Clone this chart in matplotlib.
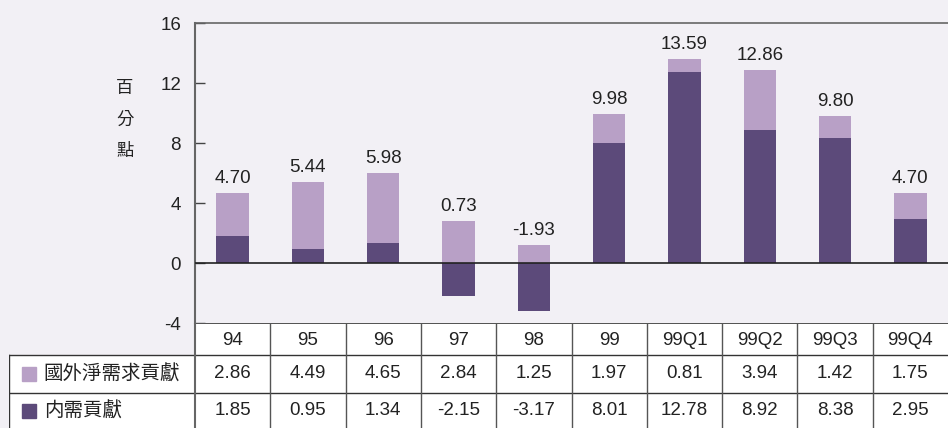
import matplotlib
matplotlib.use("Agg")
import matplotlib.pyplot as plt
import numpy as np

plt.rcParams['font.family'] = ['Liberation Sans', 'Noto Sans CJK TC', 'DejaVu Sans']
plt.rcParams['axes.unicode_minus'] = False

# data
categories = ["94", "95", "96", "97", "98", "99", "99Q1", "99Q2", "99Q3", "99Q4"]
foreign = [2.86, 4.49, 4.65, 2.84, 1.25, 1.97, 0.81, 3.94, 1.42, 1.75]
domestic = [1.85, 0.95, 1.34, -2.15, -3.17, 8.01, 12.78, 8.92, 8.38, 2.95]
totals = [4.70, 5.44, 5.98, 0.73, -1.93, 9.98, 13.59, 12.86, 9.80, 4.70]
series_names = ["國外淨需求貢獻", "内需貢獻"]

bg = "#f2f0f5"
c_light = "#b8a0c6"
c_dark = "#5c4a7a"
W, H = 948, 428
fs = 13.5

fig = plt.figure(figsize=(W / 100, H / 100), dpi=100, facecolor=bg)

# main chart
ax_l, ax_r, ax_t, ax_b = 195, 948, 23.3, 323.3
ax = fig.add_axes([ax_l / W, 1 - ax_b / H, (ax_r - ax_l) / W, (ax_b - ax_t) / H])
ax.set_facecolor(bg)

x = np.arange(len(categories))
foreign = np.array(foreign)
domestic = np.array(domestic)
# foreign part sits on top of domestic when domestic is positive, else starts at 0
base = np.where(domestic > 0, domestic, 0)
ax.bar(x, domestic, width=0.43, color=c_dark, zorder=2)
ax.bar(x, foreign, bottom=base, width=0.43, color=c_light, zorder=2)

tops = base + foreign
for xi, t, lab in zip(x, tops, totals):
    ax.text(xi, t + 0.4, "%.2f" % lab, ha="center", va="bottom", fontsize=fs, color="#222222")

ax.axhline(0, color="#222222", lw=1.2, zorder=3)
ax.set_xlim(-0.5, len(categories) - 0.5)
ax.set_ylim(-4, 16)
ax.set_yticks([-4, 0, 4, 8, 12, 16])
ax.set_xticks([])
ax.tick_params(axis="y", direction="in", length=7, width=1, color="#444444",
               labelsize=fs, labelcolor="#222222", pad=10)
for s in ["right", "bottom"]:
    ax.spines[s].set_visible(False)
ax.spines["left"].set_color("#666666")
ax.spines["top"].set_color("#666666")
ax.spines["left"].set_linewidth(1.5)
ax.spines["top"].set_linewidth(1.2)

fig.text(125 / W, 1 - 120 / H, "百\n分\n點", ha="center", va="center",
         fontsize=12.5, linespacing=2.2, color="#222222")

# data table below
tl, tr, tt, tb = 9, 948, 323.3, 428
tax = fig.add_axes([tl / W, 0, (tr - tl) / W, (tb - tt) / H])
tax.set_facecolor("none")
col_w = (ax_r - ax_l) / len(categories)
lab_w = (ax_l - tl) / col_w
tax.set_xlim(-0.5 - lab_w, len(categories) - 0.5)
tax.set_ylim(tb - tt, 0)
tax.axis("off")

row_edges = [0, 31.5, 69.5, 107]
left_edge = -0.5 - lab_w
x0 = -0.5
x1 = len(categories) - 0.5

# white cell backgrounds
tax.fill_between([x0, x1], row_edges[0], row_edges[1], color="white", zorder=0)
tax.fill_between([left_edge, x1], row_edges[1], row_edges[3], color="white", zorder=0)

lc = "#333333"
tax.plot([x0, x1], [row_edges[0]] * 2, color=lc, lw=1.2)
for ry in row_edges[1:3]:
    tax.plot([left_edge, x1], [ry, ry], color=lc, lw=1)
tax.plot([left_edge, left_edge], [row_edges[1], row_edges[3]], color=lc, lw=1)
tax.plot([x0, x0], [row_edges[0], row_edges[3]], color="#666666", lw=1.5)
for i in range(1, len(categories)):
    tax.plot([i - 0.5, i - 0.5], [row_edges[0], row_edges[3]], color="#555555", lw=1)

for i, c in enumerate(categories):
    tax.text(i, (row_edges[0] + row_edges[1]) / 2 + 1, c, ha="center", va="center", fontsize=fs, color="#222222")
for r, (vals, col, name) in enumerate(zip([foreign, domestic], [c_light, c_dark], series_names)):
    yc = (row_edges[r + 1] + row_edges[r + 2]) / 2
    if r == 1:
        yc = row_edges[2] + 18
    for i, v in enumerate(vals):
        tax.text(i, yc, "%.2f" % v, ha="center", va="center", fontsize=fs, color="#222222")
    tax.plot([left_edge + 0.27], [yc], marker="s", markersize=9.5, color=col, mec=col)
    tax.text(left_edge + 0.46, yc, name, ha="left", va="center", fontsize=14, color="#222222")

fig.savefig("out.png", dpi=100, facecolor=bg)
